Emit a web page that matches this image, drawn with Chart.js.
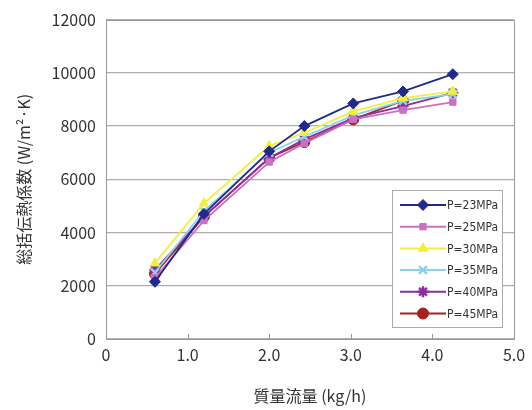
<!DOCTYPE html>
<html>
<head>
<meta charset="utf-8">
<script src="https://cdn.jsdelivr.net/npm/chart.js@4/dist/chart.umd.min.js"></script>
<style>
  html, body { margin: 0; padding: 0; background: #fff; }
  #wrap { width: 532px; height: 410px; }
</style>
</head>
<body>
<div id="wrap"><canvas id="heatChart" width="532" height="410"></canvas></div>
<script>
// mass flow (kg/h)
var flow = [0.6, 1.2, 2.0, 2.43, 3.03, 3.64, 4.25];

// overall heat transfer coefficient (W/m2K) per pressure
var p23 = [2150, 4700, 7050, 8000, 8850, 9300, 9950];
var p25 = [2300, 4450, 6650, 7350, 8250, 8600, 8900];
var p30 = [2850, 5100, 7250, 7750, 8550, 9050, 9300];
var p35 = [2500, 4800, 7000, 7600, 8400, 8950, 9200];
var p40 = [2600, 4600, 6800, 7500, 8300, 8750, 9250];
var p45 = [2450, 4600, 6800, 7400, 8250, 8950, null];

var labels = ["P=23MPa", "P=25MPa", "P=30MPa", "P=35MPa", "P=40MPa", "P=45MPa"];
var colors = ["#1f2a8c", "#cc6fc0", "#f2ef3c", "#86d4ea", "#8b2f9e", "#a5221f"];
var shapes = ["rectRot", "rect", "triangle", "crossRot", "star", "circle"];
var sizes = [5.5, 4.5, 5.5, 5.5, 5.5, 5.5];

function pts(ys) {
  return flow.map(function (x, i) { return { x: x, y: ys[i] }; });
}

var series = [p23, p25, p30, p35, p40, p45];
var datasets = series.map(function (ys, i) {
  return {
    label: labels[i],
    data: pts(ys),
    borderColor: colors[i],
    backgroundColor: colors[i],
    pointStyle: shapes[i],
    pointRadius: sizes[i],
    pointBorderWidth: shapes[i] == "crossRot" || shapes[i] == "star" ? 2.5 : 1,
    borderWidth: 1.8,
    tension: 0,
    spanGaps: false
  };
});

// plot frame, inward x ticks and the legend box inside the plot
var boxLegend = {
  id: "boxLegend",
  afterDraw: function (chart) {
    var c = chart.ctx;
    var xs = chart.scales.x;
    var area = chart.chartArea;
    c.save();
    c.strokeStyle = "#999";
    c.lineWidth = 1;
    c.strokeRect(Math.round(area.left) + 0.5, Math.round(area.top) + 0.5,
      Math.round(area.right - area.left), Math.round(area.bottom - area.top));
    [1, 2, 3, 4].forEach(function (v) {
      var px = Math.round(xs.getPixelForValue(v)) + 0.5;
      c.beginPath();
      c.moveTo(px, area.bottom);
      c.lineTo(px, area.bottom - 5);
      c.stroke();
    });

    var bx = 392, by = 190, bw = 110, bh = 137;
    c.fillStyle = "#fff";
    c.fillRect(bx, by, bw, bh);
    c.strokeStyle = "#aaa";
    c.strokeRect(bx + 0.5, by + 0.5, bw, bh);
    c.font = "12px 'Liberation Sans Narrow', 'DejaVu Sans Condensed', sans-serif";
    c.textBaseline = "middle";
    chart.data.datasets.forEach(function (ds, i) {
      var y = by + 15 + i * 21.7;
      c.strokeStyle = ds.borderColor;
      c.lineWidth = 2;
      c.beginPath();
      c.moveTo(bx + 8, y);
      c.lineTo(bx + 54, y);
      c.stroke();
      c.fillStyle = ds.borderColor;
      c.lineWidth = ds.pointBorderWidth;
      Chart.helpers.drawPoint(c, {
        pointStyle: ds.pointStyle, radius: ds.pointRadius, borderWidth: ds.pointBorderWidth
      }, bx + 31, y);
      c.fillStyle = "#333";
      c.fillText(ds.label, bx + 55, y + 1);
    });
    c.restore();
  }
};

var ctx = document.getElementById("heatChart").getContext("2d");
var heatChart = new Chart(ctx, {
  type: "line",
  data: { datasets: datasets },
  plugins: [boxLegend],
  options: {
    responsive: false,
    animation: false,
    layout: { padding: { top: 10, right: 18, left: 0, bottom: 0 } },
    plugins: {
      legend: { display: false },
      tooltip: { enabled: false }
    },
    scales: {
      x: {
        type: "linear",
        min: 0,
        max: 5,
        ticks: {
          stepSize: 1,
          color: "#333",
          padding: 6,
          font: { family: "'Noto Sans CJK JP', sans-serif", size: 16 },
          callback: function (v) { return v === 0 ? "0" : v.toFixed(1); }
        },
        grid: { display: false, drawTicks: false },
        border: { color: "#999", width: 1 },
        title: {
          display: true,
          text: "質量流量 (kg/h)",
          color: "#333",
          font: { family: "'Noto Sans CJK JP', sans-serif", size: 16 },
          padding: { top: 14 }
        },
        afterFit: function (s) { s.height = 71; }
      },
      y: {
        min: 0,
        max: 12000,
        ticks: {
          stepSize: 2000,
          color: "#333",
          padding: 10,
          font: { family: "'Noto Sans CJK JP', sans-serif", size: 16 },
          callback: function (v) { return String(v); }
        },
        grid: { color: "#b5aca8", lineWidth: 1.2, drawTicks: false },
        border: { color: "#999", width: 1 },
        title: {
          display: true,
          text: "総括伝熱係数 (W/m²·K)",
          color: "#333",
          font: { family: "'Noto Sans CJK JP', sans-serif", size: 16 },
          padding: { top: 14, bottom: 0 }
        },
        afterFit: function (s) { s.width = 106; }
      }
    }
  }
});
</script>
</body>
</html>
